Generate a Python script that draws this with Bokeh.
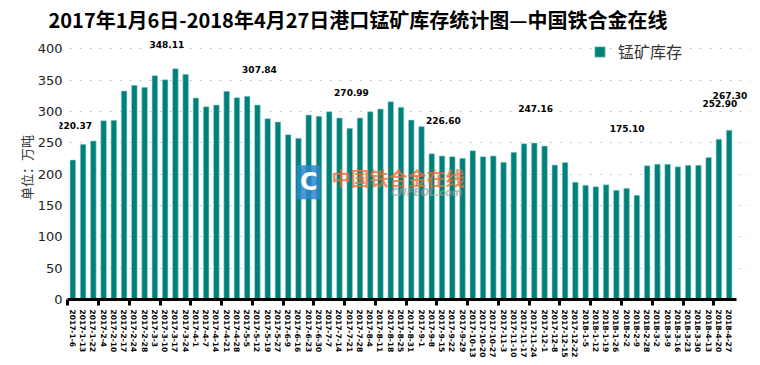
from bokeh.plotting import figure
from bokeh.layouts import row
from bokeh.models import (ColumnDataSource, Range1d, FixedTicker, Legend, LegendItem, Label, Spacer)
from bokeh.embed import file_html
from bokeh.resources import INLINE

# ---------------- data ----------------
dates = [
    "2017-1-6", "2017-1-13", "2017-1-22", "2017-2-4", "2017-2-10", "2017-2-17", "2017-2-24",
    "2017-2-28", "2017-3-3", "2017-3-10", "2017-3-17", "2017-3-24", "2017-4-1", "2017-4-7",
    "2017-4-14", "2017-4-21", "2017-4-28", "2017-5-5", "2017-5-12", "2017-5-19", "2017-5-27",
    "2017-6-9", "2017-6-16", "2017-6-23", "2017-6-30", "2017-7-7", "2017-7-14", "2017-7-21",
    "2017-7-28", "2017-8-4", "2017-8-11", "2017-8-18", "2017-8-25", "2017-8-31", "2017-9-1",
    "2017-9-8", "2017-9-15", "2017-9-22", "2017-9-29", "2017-10-13", "2017-10-20", "2017-10-27",
    "2017-11-3", "2017-11-10", "2017-11-17", "2017-11-24", "2017-12-1", "2017-12-8",
    "2017-12-15", "2017-12-22", "2018-1-5", "2018-1-12", "2018-1-19", "2018-1-26", "2018-2-2",
    "2018-2-9", "2018-2-28", "2018-3-2", "2018-3-9", "2018-3-16", "2018-3-23", "2018-3-30",
    "2018-4-13", "2018-4-20", "2018-4-27",
]
stock = [
    222.5, 247.5, 252.8, 285.2, 285.8, 332.5, 341.6, 338.4, 357.0, 350.6,
    368.1, 359.2, 321.4, 307.5, 310.2, 332.0, 321.9, 324.0, 310.2, 288.4,
    283.1, 262.8, 257.1, 294.3, 292.2, 299.5, 289.5, 273.0, 289.5, 299.5,
    303.8, 315.5, 306.5, 286.3, 276.0, 232.6, 228.9, 227.8, 225.2, 237.3,
    227.8, 228.9, 218.8, 234.8, 248.5, 249.6, 244.8, 214.5, 218.5, 187.0,
    182.1, 179.9, 182.8, 174.2, 177.3, 166.2, 213.4, 215.8, 215.8, 211.5,
    214.0, 214.2, 226.5, 255.7, 270.1,
]
y_ticks = [0, 50, 100, 150, 200, 250, 300, 350, 400]
series_name = "锰矿库存"
title_text = "2017年1月6日-2018年4月27日港口锰矿库存统计图—中国铁合金在线"
y_label = "单位：万吨"

# annotated values printed on the chart
ann_text = ["220.37", "348.11", "307.84", "270.99", "226.60", "247.16", "175.10", "252.90", "267.30"]
ann_x = [0.18, 9.17, 18.2, 27.17, 36.13, 45.12, 54.05, 63.1, 64.08]
ann_y = [278, 406, 366, 330, 285, 305, 272, 312, 326]

xs = list(range(len(dates)))
src = ColumnDataSource(dict(x=xs, v=stock, d=dates))

fig = figure(frame_width=691, frame_height=264,
             x_range=Range1d(-1.30, 66.08), y_range=Range1d(0, 421),
             output_backend="svg", toolbar_location=None,
             min_border_left=0, min_border_right=2, min_border_bottom=0, min_border_top=0)
fig.outline_line_color = None
fig.background_fill_color = "white"

# title
fig.title.text = title_text
fig.title.text_font = "Liberation Sans Narrow, Noto Sans CJK SC"
fig.title.text_font_size = "20px"
fig.title.text_font_style = "bold"
fig.title.text_color = "black"
fig.title.align = "left"
fig.title.offset = -11
fig.title.standoff = 4

bars = fig.vbar(x="x", top="v", width=0.55, source=src, fill_color="#00807a",
                line_color="#a6d6d3", line_width=0.6)

# x axis
xa = fig.xaxis[0]
xa.bounds = (-0.55, 64.75)
xa.ticker = FixedTicker(ticks=xs, minor_ticks=[i - 0.5 for i in range(0, len(xs), 3)])
xa.major_label_overrides = {i: d for i, d in enumerate(dates)}
xa.major_label_orientation = "vertical"
xa.major_label_text_font = "DejaVu Sans"
xa.major_label_text_font_size = "7.5px"
xa.major_label_text_font_style = "bold"
xa.major_label_text_color = "black"
xa.major_label_standoff = 4
xa.major_tick_in = 0
xa.major_tick_out = 0
xa.minor_tick_in = 0
xa.minor_tick_out = 6
xa.minor_tick_line_width = 3
xa.minor_tick_line_color = "black"
xa.axis_line_width = 3
xa.axis_line_color = "black"

# y axis
ya = fig.yaxis[0]
ya.ticker = FixedTicker(ticks=y_ticks)
ya.axis_line_color = None
ya.major_tick_line_color = None
ya.minor_tick_line_color = None
ya.major_tick_in = 0
ya.major_tick_out = 0
ya.minor_tick_in = 0
ya.minor_tick_out = 0
ya.major_label_text_font = "DejaVu Sans"
ya.major_label_text_font_size = "13px"
ya.major_label_text_color = "#222222"
ya.major_label_standoff = -3
ya.axis_label = y_label
ya.axis_label_text_font = "Noto Sans CJK SC"
ya.axis_label_text_font_size = "13px"
ya.axis_label_text_font_style = "normal"
ya.axis_label_text_color = "#333333"
ya.axis_label_standoff = -1

fig.xgrid.grid_line_color = None
fig.ygrid.grid_line_color = "#c4c4c4"
fig.ygrid.grid_line_dash = "2 8"
fig.ygrid.grid_line_width = 1

# legend (location measured from the frame's lower-left corner)
legend = Legend(items=[LegendItem(label=series_name, renderers=[bars])],
                location=(534, 236), orientation="vertical")
legend.border_line_color = None
legend.background_fill_alpha = 0
legend.padding = 0
legend.margin = 0
legend.glyph_width = 13
legend.glyph_height = 13
legend.label_standoff = 12
legend.label_text_font = "Noto Sans CJK SC"
legend.label_text_font_size = "16px"
legend.label_text_color = "#333333"
fig.add_layout(legend, "center")

# value annotations
for t, ax, ay in zip(ann_text, ann_x, ann_y):
    fig.add_layout(Label(x=ax, y=ay, text=t, text_align="center", text_baseline="middle",
                         text_font="DejaVu Sans", text_font_size="9px",
                         text_font_style="bold", text_color="black"))

# watermark
fig.add_layout(Label(x=23.0, y=187, text="C", text_align="center", text_baseline="middle",
                     text_font="DejaVu Sans", text_font_size="24px", text_font_style="bold",
                     text_color="white", background_fill_color="#2a86cc",
                     background_fill_alpha=0.85, padding=3))
fig.add_layout(Label(x=31.7, y=194, text="中国铁合金在线", text_align="center",
                     text_baseline="middle", text_font="Noto Sans CJK SC",
                     text_font_size="19px", text_font_style="bold",
                     text_color="#ee7034", text_alpha=0.8))
fig.add_layout(Label(x=34.5, y=170, text="CNFEOL.com", text_align="center",
                     text_baseline="middle", text_font="DejaVu Sans",
                     text_font_size="10px", text_font_style="bold italic",
                     text_color="#9a9a9a", text_alpha=0.7))

p = row(Spacer(width=13), fig)

open("out.html", "w").write(file_html(p, INLINE))
